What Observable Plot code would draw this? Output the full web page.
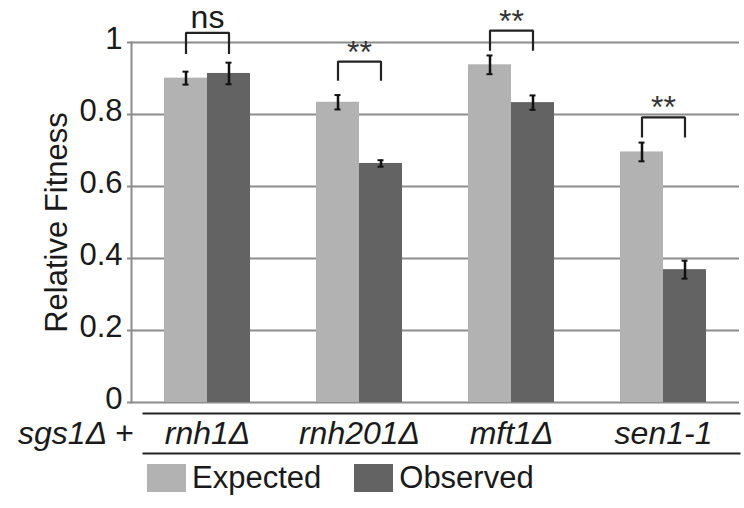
<!DOCTYPE html>
<html>
<head>
<meta charset="utf-8">
<script src="https://cdn.jsdelivr.net/npm/d3@7"></script>
<script src="https://cdn.jsdelivr.net/npm/@observablehq/plot@0.6"></script>
<style>
  html, body { margin: 0; padding: 0; background: #fff; }
  #chart svg { display: block; }
  .lg-swatches { margin: 2px 0 0 147px !important; font-family: "Liberation Sans", Arial, sans-serif !important; font-size: 31px !important; color: #1a1a1a; }
  .lg-swatch { margin-right: 33px !important; }
  .lg-swatch > svg { margin-right: 6px !important; }
</style>
</head>
<body>
<div id="chart"></div>
<script>
// ---- data ----
const categories = ["rnh1Δ", "rnh201Δ", "mft1Δ", "sen1-1"];
const series = ["Expected", "Observed"];
const expected = [0.901, 0.834, 0.938, 0.696];
const expectedErr = [0.018, 0.020, 0.026, 0.026];
const observed = [0.914, 0.664, 0.833, 0.369];
const observedErr = [0.030, 0.009, 0.020, 0.025];
const sigLabels = ["ns", "**", "**", "**"];
const bracketTop = [1.027, 0.947, 1.033, 0.792];
const bracketBottom = [0.968, 0.894, 0.977, 0.736];
const yTicks = [0, 0.2, 0.4, 0.6, 0.8, 1];
const yTickLabels = ["0", "0.2", "0.4", "0.6", "0.8", "1"];
const prefixLabel = ["sgs1Δ +"];
const seriesColors = ["#b2b2b2", "#636363"];

// ---- tables ----
const rows = categories.flatMap((c, i) => [
  {category: c, series: "Expected", value: expected[i], err: expectedErr[i]},
  {category: c, series: "Observed", value: observed[i], err: observedErr[i]}
]);
const bracketPts = categories.flatMap((c, i) => [
  {category: c, series: "Expected", y: bracketBottom[i]},
  {category: c, series: "Expected", y: bracketTop[i]},
  {category: c, series: "Observed", y: bracketTop[i]},
  {category: c, series: "Observed", y: bracketBottom[i]}
]);
const sig = categories.map((c, i) => ({category: c, label: sigLabels[i], y: bracketTop[i]}));

const font = "'Liberation Sans', Arial, Helvetica, sans-serif";
const ink = "#1a1a1a";
const gridGray = "#8c8c8c";

const plot = Plot.plot({
  width: 744,
  height: 458,
  marginTop: 42,
  marginLeft: 130,
  marginRight: 4,
  marginBottom: 56,
  style: {fontFamily: font, fontSize: "30px", color: ink, background: "#fff"},
  fx: {domain: categories, padding: 0, label: null},
  x: {domain: series, paddingInner: 0, paddingOuter: 0.733, axis: null},
  y: {domain: [0, 1]},
  color: {domain: series, range: seriesColors},
  marks: [
    Plot.gridY(yTicks, {stroke: gridGray, strokeOpacity: 1, strokeWidth: 2}),
    Plot.axisY(yTicks, {tickSize: 4, stroke: gridGray, strokeWidth: 2, tickFormat: () => "", label: null}),
    Plot.axisY(yTicks, {
      tickSize: 0, tickPadding: 9, dy: -3, fontSize: 31, fill: ink,
      tickFormat: (d) => yTickLabels[yTicks.indexOf(d)],
      label: "Relative Fitness", labelAnchor: "center", labelOffset: 87, labelArrow: "none"
    }),
    Plot.frame({anchor: "left", facet: "super", stroke: gridGray, strokeWidth: 2}),
    Plot.barY(rows, {fx: "category", x: "series", y: "value", fill: "series"}),
    Plot.ruleX(rows, {fx: "category", x: "series", y1: (d) => d.value - d.err, y2: (d) => d.value + d.err, stroke: "#111", strokeWidth: 2.5}),
    Plot.tickY(rows, {fx: "category", x: "series", y: (d) => d.value - d.err, insetLeft: 18.5, insetRight: 18.5, stroke: "#111", strokeWidth: 2}),
    Plot.tickY(rows, {fx: "category", x: "series", y: (d) => d.value + d.err, insetLeft: 18.5, insetRight: 18.5, stroke: "#111", strokeWidth: 2}),
    Plot.line(bracketPts, {fx: "category", x: "series", y: "y", z: "category", stroke: "#222", strokeWidth: 2.2, strokeLinejoin: "miter", strokeLinecap: "butt"}),
    Plot.text(sig.filter((d) => d.label === "ns"), {fx: "category", y: "y", text: "label", lineAnchor: "bottom", dy: -5, fontSize: 32, fill: ink}),
    Plot.text(sig.filter((d) => d.label !== "ns"), {fx: "category", y: "y", text: "label", lineAnchor: "bottom", dy: 1, fontSize: 32, fill: "#333"}),
    Plot.axisFx({anchor: "bottom", tickSize: 0, tickPadding: 19, fontSize: 32, fontStyle: "italic", fill: ink, label: null}),
    Plot.frame({anchor: "bottom", facet: "super", dy: 11, insetLeft: 12, stroke: "#222", strokeWidth: 2}),
    Plot.frame({anchor: "bottom", facet: "super", dy: 51, insetLeft: 12, stroke: "#222", strokeWidth: 2}),
    Plot.text(prefixLabel, {facet: "super", frameAnchor: "bottom-left", textAnchor: "end", lineAnchor: "bottom", dx: 2, dy: 41, fontSize: 32, fontStyle: "italic", fill: ink})
  ]
});

const legend = Plot.legend({
  color: {domain: series, range: seriesColors},
  swatchWidth: 39,
  swatchHeight: 28,
  className: "lg"
});

const root = document.getElementById("chart");
root.appendChild(plot);
root.appendChild(legend);
</script>
</body>
</html>
